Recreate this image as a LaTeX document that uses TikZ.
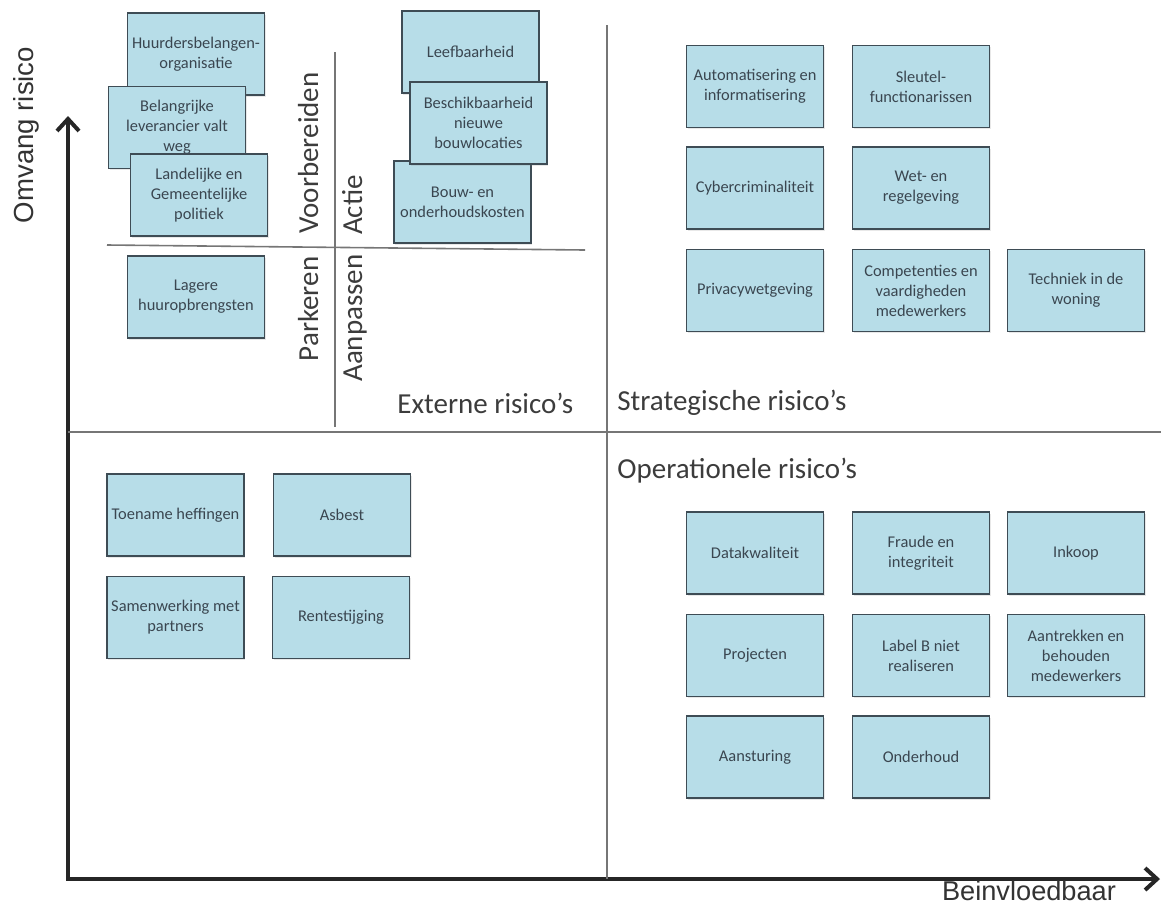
\documentclass[tikz,border=0pt]{standalone}
\usepackage{xcolor}
\usepackage{tikz}
\usepackage{fontspec}
\setmainfont{Carlito}
\newfontfamily\axisfont{Liberation Sans}
\usetikzlibrary{arrows.meta,shadows}
\definecolor{boxfill}{HTML}{B7DDE8}
\definecolor{boxline}{HTML}{3E4C55}
\definecolor{boxtext}{HTML}{3A4650}
\definecolor{quadline}{HTML}{767676}
\definecolor{labeltext}{HTML}{3C3C3C}

\begin{document}
\begin{tikzpicture}[x=0.5pt,y=-0.5pt,
    risk/.style={draw=boxline,line width=0.6pt,fill=boxfill,text=boxtext,
      minimum width=68.5pt,minimum height=41pt,inner sep=0.5pt,align=center,
      font=\fontsize{8.2}{10}\selectfont,
      drop shadow={shadow xshift=0.6pt,shadow yshift=-0.8pt,opacity=0.18}},
    quad/.style={text=labeltext,font=\fontsize{14.5}{16}\selectfont,inner sep=0pt},
    axis/.style={line width=2pt,draw=black!85,line join=miter}]
      \useasboundingbox (0,0) rectangle (1161,906);
      % assen
      \coordinate (o) at (68,879);
      \coordinate (ytop) at (68,116);
      \coordinate (xend) at (1160,879);
      \draw[axis,{Straight Barb[length=6pt,width=11pt]}-{Straight Barb[length=6pt,width=11pt]}] (ytop) -- (o) -- (xend);
      \node[rotate=90,anchor=base,inner sep=0pt,text=black!80,font=\axisfont\fontsize{13.8}{15}\selectfont] (omvang) at (33,135) {Omvang risico};
      \node[anchor=base,inner sep=0pt,text=black!80,font=\axisfont\fontsize{13.6}{15}\selectfont] (beinvl) at (1029,900) {Beinvloedbaar};
      % kwadranten
      \coordinate (hl) at (68,432);
      \coordinate (hr) at (1161,432);
      \coordinate (vt) at (607,25);
      \coordinate (vb) at (607,879);
      \draw[quadline,line width=1pt] (hl) -- (hr);
      \draw[quadline,line width=1pt] (vt) -- (vb);
      \coordinate (il) at (107,245);
      \coordinate (ir) at (585,250);
      \coordinate (it) at (335,52);
      \coordinate (ib) at (335,427);
      \draw[quadline,line width=0.8pt] (il) -- (ir);
      \draw[quadline,line width=0.8pt] (it) -- (ib);
      \node[quad,rotate=90,anchor=base] (voorb) at (318,153) {Voorbereiden};
      \node[quad,rotate=90,anchor=base] (actie) at (362,205) {Actie};
      \node[quad,rotate=90,anchor=base] (park) at (318,309) {Parkeren};
      \node[quad,rotate=90,anchor=base] (aanp) at (362,318) {Aanpassen};
      \node[quad,anchor=base west] (extern) at (397,413) {Externe risico’s};
      \node[quad,anchor=base west] (strat) at (617,410) {Strategische risico’s};
      \node[quad,anchor=base west] (oper) at (617,478) {Operationele risico’s};
      % externe risico's
      \node[risk] (hurd) at (196,54) {Huurdersbelangen-\\organisatie};
      \node[risk] (leve) at (177,127.5) {Belangrijke\\leverancier valt\\weg};
      \node[risk] (poli) at (199,195) {Landelijke en\\Gemeentelijke\\politiek};
      \node[risk] (huur) at (196,297) {Lagere\\huuropbrengsten};
      \node[risk] (leef) at (470.5,52) {Leefbaarheid};
      \node[risk] (bouw) at (462.5,202) {Bouw- en\\onderhoudskosten};
      \node[risk] (besc) at (478.5,123) {Beschikbaarheid\\nieuwe\\bouwlocaties};
      \node[risk] (heff) at (175.5,515) {Toename heffingen};
      \node[risk] (asb) at (342,515) {Asbest};
      \node[risk] (samw) at (175.5,617.5) {Samenwerking met\\partners};
      \node[risk] (rent) at (341,617.5) {Rentestijging};
      % strategische risico's
      \node[risk] (auto) at (755,86.5) {Automatisering en\\informatisering};
      \node[risk] (sleu) at (921,86.5) {Sleutel-\\functionarissen};
      \node[risk] (cyber) at (755,188) {Cybercriminaliteit};
      \node[risk] (wet) at (921,188) {Wet- en\\regelgeving};
      \node[risk] (priv) at (755,290.5) {Privacywetgeving};
      \node[risk] (comp) at (921,290.5) {Competenties en\\vaardigheden\\medewerkers};
      \node[risk] (tech) at (1076,290.5) {Techniek in de\\woning};
      % operationele risico's
      \node[risk] (data) at (755,553) {Datakwaliteit};
      \node[risk] (frau) at (921,553) {Fraude en\\integriteit};
      \node[risk] (inko) at (1076,553) {Inkoop};
      \node[risk] (proj) at (755,655.5) {Projecten};
      \node[risk] (labb) at (921,655.5) {Label B niet\\realiseren};
      \node[risk] (aantr) at (1076,655.5) {Aantrekken en\\behouden\\medewerkers};
      \node[risk] (aans) at (755,757) {Aansturing};
      \node[risk] (ondh) at (921,757) {Onderhoud};
    \end{tikzpicture}
\end{document}
